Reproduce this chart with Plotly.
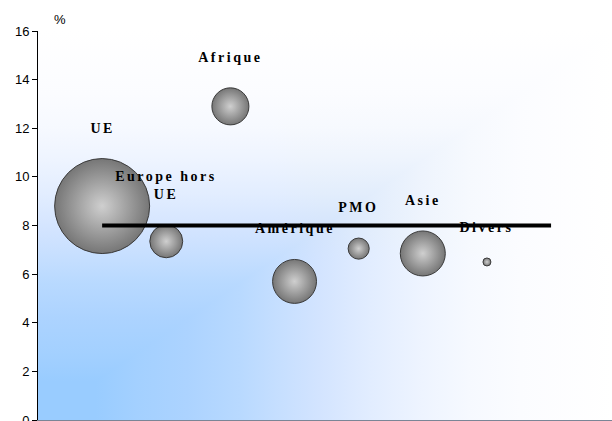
import math
import plotly.graph_objects as go

# ---- data ----
categories = ["UE", "Europe hors<br>UE", "Afrique", "Amérique", "PMO", "Asie", "Divers"]
taux = [8.8, 7.35, 12.9, 5.7, 7.05, 6.85, 6.5]          # % (y values)
poids = [56.6, 6.8, 8.6, 12.1, 2.8, 12.7, 0.4]           # bubble weights (area)
moyenne = 8.0                                            # horizontal reference line
y_ticks = [0, 2, 4, 6, 8, 10, 12, 14, 16]

positions = list(range(1, len(categories) + 1))
max_diam = 95.0
sizeref = 2.0 * max(poids) / max_diam ** 2

fig = go.Figure()

fig.add_trace(go.Scatter(
    x=positions, y=taux, mode="markers",
    marker=dict(size=poids, sizemode="area", sizeref=sizeref,
                color="#767676",
                gradient=dict(type="radial", color="#cfcfcf"),
                line=dict(color="#3a3a3a", width=1), opacity=1),
    hoverinfo="skip", showlegend=False,
))

fig.add_trace(go.Scatter(
    x=[positions[0], positions[-1] + 1], y=[moyenne, moyenne], mode="lines",
    line=dict(color="black", width=4), hoverinfo="skip", showlegend=False,
))

for xp, yv, w, lab in zip(positions, taux, poids, categories):
    r = math.sqrt(w / (2 * sizeref))
    fig.add_annotation(
        x=xp, y=yv, text="<b>" + lab + "</b>", showarrow=False,
        yanchor="bottom", xanchor="center", yshift=r + 21,
        font=dict(family="Liberation Serif", size=14, color="black"),
        align="center",
    )

fig.add_annotation(
    x=0, y=1, xref="paper", yref="paper", text="%", showarrow=False,
    xanchor="left", yanchor="bottom", xshift=14, yshift=2,
    font=dict(family="Liberation Sans", size=13, color="black"),
)

stops = [(0, "99CCFF"), (0.10, "99CCFF"), (0.17, "A3D0FF"), (0.26, "ACD3FF"),
         (0.35, "B8D9FF"), (0.41, "C4DEFF"), (0.49, "D3E4FC"), (0.58, "E2EDFC"),
         (0.67, "EEF4FD"), (0.75, "F6F9FE"), (0.84, "FBFCFF"), (1.0, "FFFFFF")]
stop_str = "".join("<stop offset='%s' stop-color='%%23%s'/>" % (o, c) for o, c in stops)
svg = ("data:image/svg+xml;utf8,"
       "<svg xmlns='http://www.w3.org/2000/svg' viewBox='0 0 100 100' preserveAspectRatio='none'>"
       "<defs>"
       "<linearGradient id='h' x1='0' y1='0' x2='1' y2='0'>" + stop_str + "</linearGradient>"
       "<linearGradient id='v' x1='0' y1='1' x2='0' y2='0'>" + stop_str + "</linearGradient>"
       "</defs>"
       "<rect width='100' height='100' fill='url(%23h)'/>"
       "<rect width='100' height='100' fill='url(%23v)' style='mix-blend-mode:lighten'/>"
       "</svg>")

fig.add_layout_image(dict(
    source=svg, xref="paper", yref="paper", x=0, y=1, sizex=1, sizey=1,
    xanchor="left", yanchor="top", sizing="stretch", layer="below",
))

fig.update_layout(
    width=612, height=421,
    margin=dict(l=38, r=0, t=31, b=1),
    paper_bgcolor="white", plot_bgcolor="rgba(0,0,0,0)",
    font=dict(family="Liberation Sans", size=13, color="black"),
    xaxis=dict(range=[0, 8.95], showticklabels=False, ticks="", showgrid=False,
               zeroline=False, showline=True, linecolor="#7a8596", linewidth=2,
               automargin=False),
    yaxis=dict(range=[0, 16], tickvals=y_ticks, ticks="outside", ticklen=5,
               tickcolor="black", showgrid=False, zeroline=False, showline=True,
               linecolor="black", linewidth=1, tickfont=dict(size=13),
               automargin=False, ticklabeloverflow="allow"),
)

post = """
document.body.style.margin = '0';
var gd = document.getElementById('{plot_id}');
gd.querySelectorAll('.annotation-text').forEach(function(t){
  if (t.textContent !== '%') { t.style.letterSpacing = '2.5px'; }
});
"""

fig.write_html("out.html", post_script=post, config={"displayModeBar": False})
